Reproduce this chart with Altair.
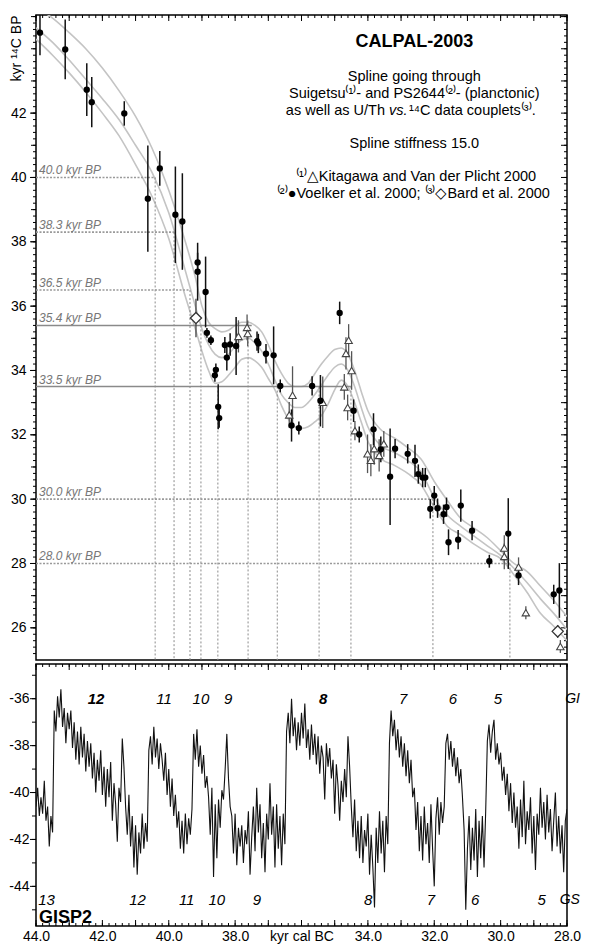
import altair as alt
import pandas as pd

FONT = "Liberation Sans"
W = 531
H_TOP = 645
H_BOT = 262
Y_TOP_MIN = 25.0

# ---------------- data ----------------
# Voelker et al. 2000 (PS2644), black dots: cal age (kyr BC), 14C age (kyr BP), 1-sigma
VOELKER_AGE = [43.88, 43.12, 42.47, 42.32, 41.34, 40.63, 40.27, 39.80, 39.59, 39.13,
               39.13, 38.89, 38.85, 38.73, 38.58, 38.61, 38.51, 38.48, 38.31, 38.25,
               38.15, 37.97, 37.34, 37.30, 37.07, 36.84, 36.64, 36.30, 36.08, 35.68,
               35.43, 34.85, 34.43, 34.26, 33.83, 33.61, 33.33, 33.18, 32.80, 32.58,
               32.48, 32.35, 32.27, 32.00, 32.12, 31.90, 31.72, 31.63, 31.20, 31.57,
               31.28, 30.86, 30.34, 29.77, 29.46, 28.40, 28.23]
VOELKER_C14 = [44.50, 43.98, 42.73, 42.34, 41.99, 39.34, 40.28, 38.84, 38.63, 37.36,
               37.07, 36.44, 35.17, 34.94, 34.02, 33.85, 32.87, 32.52, 34.79, 34.40,
               34.81, 34.76, 34.91, 34.84, 34.52, 34.47, 33.52, 32.29, 32.21, 33.52,
               33.06, 35.79, 32.75, 32.01, 32.17, 31.55, 30.70, 31.57, 31.41, 31.19,
               30.78, 30.67, 30.67, 30.11, 29.70, 29.72, 29.53, 29.75, 29.80, 28.66,
               28.74, 29.02, 28.07, 28.93, 27.63, 27.04, 27.16]
VOELKER_ERR = [0.70, 0.93, 0.82, 0.78, 0.38, 1.65, 0.54, 1.50, 1.50, 0.30,
               0.90, 1.10, 0.15, 0.15, 0.20, 0.20, 0.70, 0.30, 0.25, 0.40,
               0.35, 0.90, 0.30, 0.30, 0.30, 0.90, 0.20, 0.50, 0.20, 0.30,
               0.80, 0.35, 0.35, 0.25, 0.50, 0.40, 1.50, 0.30, 0.30, 0.50,
               0.30, 0.30, 0.30, 0.30, 0.30, 0.30, 0.30, 0.30, 0.50, 0.40,
               0.30, 0.30, 0.20, 1.10, 0.30, 0.30, 0.85]

# Kitagawa & van der Plicht 2000 (Suigetsu), open triangles
KIT_AGE = [37.90, 37.64, 37.62, 36.27, 36.37, 35.36, 34.58, 34.66, 34.49, 34.71, 34.61,
           34.39, 34.01, 33.91, 33.81, 33.66, 33.52, 29.89, 29.89, 29.46, 29.24, 28.20]
KIT_C14 = [35.06, 35.34, 35.15, 33.23, 32.62, 33.01, 34.94, 34.53, 34.00, 33.49, 32.85,
           32.13, 31.41, 31.21, 31.57, 31.36, 31.72, 28.48, 28.22, 27.89, 26.47, 25.42]
KIT_ERR = [0.50, 0.40, 0.40, 0.90, 0.40, 0.80, 0.50, 0.50, 0.60, 0.40, 0.40,
           0.30, 0.60, 0.50, 0.50, 0.50, 0.40, 0.40, 0.40, 0.30, 0.20, 0.20]

# Bard et al. 2000, open diamonds
BARD_AGE = [39.18, 28.28]
BARD_C14 = [35.63, 25.89]
BARD_ERR = [0.60, 0.20]

# CalPal-2003 spline and its 1-sigma envelope
SPLINE_AGE = [44.0, 43.5, 43.0, 42.5, 42.0, 41.5, 41.0, 40.5, 40.0, 39.5,
              39.2, 39.0, 38.8, 38.6, 38.4, 38.2, 38.0, 37.8, 37.6, 37.4,
              37.2, 37.0, 36.8, 36.6, 36.4, 36.2, 36.0, 35.8, 35.6, 35.4,
              35.2, 35.0, 34.8, 34.6, 34.4, 34.2, 34.0, 33.6, 33.2, 32.8,
              32.4, 32.0, 31.6, 31.2, 30.8, 30.4, 30.0, 29.6, 29.2, 28.8, 28.4, 28.0]
SPLINE_UPPER = [45.3, 44.95, 44.5, 44.0, 43.4, 42.7, 41.9, 40.9, 39.6, 38.0,
                36.9, 36.0, 35.5, 35.3, 35.2, 35.25, 35.4, 35.5, 35.5, 35.4,
                35.2, 34.8, 34.3, 33.9, 33.6, 33.5, 33.5, 33.6, 33.9, 34.2,
                34.45, 34.65, 34.7, 34.5, 34.0, 33.35, 32.75, 32.15, 31.9, 31.6,
                31.25, 30.55, 29.95, 29.4, 29.1, 28.8, 28.4, 28.0, 27.75, 27.3, 26.85, 26.35]
SPLINE_MID = [44.65, 44.2, 43.65, 43.05, 42.45, 41.8, 41.0, 40.15, 38.9, 37.1,
              36.0, 35.3, 34.8, 34.5, 34.4, 34.5, 34.75, 34.95, 35.0, 34.85,
              34.6, 34.2, 33.7, 33.25, 33.0, 32.85, 32.85, 33.0, 33.25, 33.55,
              33.85, 34.1, 34.2, 34.0, 33.5, 32.85, 32.25, 31.65, 31.45, 31.2,
              30.85, 30.05, 29.5, 29.15, 28.85, 28.55, 28.25, 27.85, 27.4, 26.9, 26.45, 25.95]
SPLINE_LOWER = [44.3, 43.8, 43.25, 42.65, 42.0, 41.3, 40.4, 39.4, 38.1, 36.3,
                35.3, 34.6, 34.0, 33.6, 33.65, 33.85, 34.1, 34.35, 34.4, 34.3,
                34.1, 33.75, 33.4, 32.9, 32.5, 32.25, 32.2, 32.25, 32.4, 32.6,
                32.95, 33.4, 33.7, 33.5, 33.0, 32.4, 31.8, 31.25, 31.05, 30.8,
                30.45, 29.75, 29.15, 28.9, 28.6, 28.35, 28.15, 27.65, 27.1, 26.45, 26.05, 25.6]

# calibration examples
CAL_LEVELS = [40.0, 38.3, 36.5, 35.4, 33.5, 30.0, 28.0]
CAL_LEVEL_END = [40.41, 39.84, 39.36, 37.5, 34.51, 32.04, 29.72]
CAL_LEVEL_SOLID = [False, False, False, True, True, False, False]
CAL_VERT_AGE = [40.41, 39.84, 39.36, 39.03, 38.52, 37.61, 36.73, 35.47, 34.51, 32.04, 29.72]
CAL_VERT_LEVEL = [40.0, 38.3, 36.5, 35.4, 33.5, 35.4, 33.5, 33.5, 33.5, 30.0, 28.0]

# GISP2 d18O, segments sampled every 0.05 kyr starting at the given age
GISP2_SEGMENTS = [
    (44.00, [-40.6, -39.8, -41.0, -40.2, -40.9, -39.5, -41.2, -40.6, -42.3, -41.0, -41.7]),
    (43.45, [-36.5, -37.4, -35.9, -36.8, -35.6, -37.2, -36.4, -37.9, -36.6, -37.3,
             -36.5, -38.1, -37.0, -38.6, -37.4, -38.8, -37.2, -38.5, -37.5, -39.1,
             -37.8, -38.9, -37.9, -39.4, -38.3, -40.0, -38.6, -39.5, -38.2, -40.1,
             -38.9, -40.6, -39.0, -40.2, -38.7, -41.2, -39.6, -40.5, -42.1, -39.8,
             -40.4, -37.7, -38.9]),
    (41.30, [-40.6, -41.8, -40.1, -42.3, -41.0, -43.2, -41.4, -43.5, -41.7, -42.6,
             -40.9, -42.4, -41.3, -42.1]),
    (40.60, [-38.2, -37.6, -38.8, -37.2, -38.5, -37.7, -39.0, -37.9, -38.6, -39.5,
             -38.3, -40.1, -39.0, -40.6, -39.4, -41.0, -40.1, -41.5]),
    (39.70, [-40.8, -42.4, -41.2, -42.6, -40.9, -42.2, -41.1, -41.8, -40.7]),
    (39.25, [-37.5, -38.6, -37.3, -38.9, -38.0, -39.2, -38.4, -39.8, -39.3]),
    (38.80, [-40.2, -41.8, -39.8, -43.6, -40.5, -42.8, -40.3, -41.5, -39.9]),
    (38.35, [-40.3, -39.0, -37.5, -39.4, -40.6]),
    (38.10, [-41.0, -42.6, -40.9, -43.1, -41.5, -42.3, -41.4, -43.0, -41.6, -42.2,
             -40.8, -43.5, -41.9, -40.6, -42.5, -39.8, -41.7, -40.5, -42.8, -41.3,
             -43.4, -40.9, -42.0, -39.6, -41.8, -40.6, -43.2, -40.5, -42.4, -41.0,
             -43.1, -40.9, -42.2]),
    (36.45, [-37.4, -36.6, -37.9, -36.0, -37.6, -36.8, -38.2, -37.0, -38.0, -36.6,
             -37.7, -36.2, -38.1, -37.3, -38.6, -37.1, -38.4, -37.5, -38.8, -37.6,
             -39.2, -38.0, -38.5, -40.3, -37.9, -38.9, -38.1, -39.4, -38.6, -40.9,
             -38.8, -39.7, -41.2, -39.5, -40.4, -39.0, -40.2, -37.6, -38.9]),
    (34.50, [-40.6, -41.9, -40.3, -42.5, -41.2, -42.8, -41.0, -43.0, -41.6, -42.3,
             -40.9, -43.5, -41.8, -43.2, -44.9, -41.5, -43.0, -40.8, -42.6, -41.2,
             -43.4, -41.0, -42.2]),
    (33.35, [-37.9, -36.5, -37.6, -36.9, -38.2, -37.3, -38.5, -37.6, -38.9, -37.9,
             -39.3, -38.2, -39.6, -38.6, -40.2]),
    (32.60, [-39.8, -41.6, -40.4, -42.5, -41.0, -42.9, -40.6, -42.2, -41.3, -43.0,
             -40.5, -42.4, -44.0, -41.1, -40.2, -41.8, -40.4, -41.3, -40.6]),
    (31.65, [-37.9, -37.5, -38.6, -37.8, -38.9, -38.1, -39.3, -38.5, -39.6, -39.0, -40.2]),
    (31.10, [-41.6, -45.0, -42.4, -41.0, -43.3, -41.5, -42.9, -40.7, -43.6, -41.2,
             -42.8, -41.0, -43.2, -40.8]),
    (30.40, [-37.8, -37.1, -38.3, -37.4, -36.9, -38.6, -37.9, -38.8, -38.3, -39.5]),
    (29.90, [-38.9, -40.1, -39.2, -40.8, -39.6, -41.3, -40.0, -41.5]),
    (29.50, [-40.6, -42.4, -40.3, -41.9, -39.5, -42.2, -40.8, -41.6, -40.2, -42.6,
             -41.0, -43.3, -40.9, -41.8, -39.8, -41.5, -40.4, -42.0, -40.1, -41.7,
             -40.7, -42.5, -41.2, -40.0, -42.3, -41.0, -42.6, -41.4, -43.4, -41.2, -40.7]),
]

# interstadial (GI) and stadial (GS) numbers
GI_TEXT = ["12", "11", "10", "9", "8", "7", "6", "5"]
GI_AGE = [42.19, 40.14, 39.03, 38.21, 35.35, 32.94, 31.44, 30.08]
GI_BOLD = [True, False, False, False, True, False, False, False]
GS_TEXT = ["13", "12", "11", "10", "9", "8", "7", "6", "5"]
GS_AGE = [43.68, 40.94, 39.46, 38.55, 37.34, 33.99, 32.10, 30.77, 28.76]

# axis tick positions
X_MAJOR = list(range(28, 45))
X_MINOR = [round(28 + 0.2 * i, 1) for i in range(81)]
X_LABELS = [28, 30, 32, 34, 36, 38, 40, 42, 44]
YT_LABELS = [26, 28, 30, 32, 34, 36, 38, 40, 42]
YT_INT = list(range(26, 46))
YT_MINOR = [round(25.2 + 0.2 * i, 1) for i in range(100)]
YB_LABELS = [-44, -42, -40, -38, -36]
YB_INT = list(range(-45, -34))

# ---------------- tables ----------------
voelker = pd.DataFrame({"age": VOELKER_AGE, "c14": VOELKER_C14, "err": VOELKER_ERR})
kit = pd.DataFrame({"age": KIT_AGE, "c14": KIT_C14, "err": KIT_ERR})
bard = pd.DataFrame({"age": BARD_AGE, "c14": BARD_C14, "err": BARD_ERR})
spline = pd.concat([
    pd.DataFrame({"age": SPLINE_AGE, "c14": SPLINE_UPPER, "curve": "upper"}),
    pd.DataFrame({"age": SPLINE_AGE, "c14": SPLINE_MID, "curve": "mid"}),
    pd.DataFrame({"age": SPLINE_AGE, "c14": SPLINE_LOWER, "curve": "lower"}),
])
levels = pd.DataFrame({"level": CAL_LEVELS, "x0": 44.0, "x1": CAL_LEVEL_END,
                       "solid": CAL_LEVEL_SOLID,
                       "label": [f"{v:.1f} kyr BP" for v in CAL_LEVELS],
                       "lx": 43.91})
verts = pd.DataFrame({"age": CAL_VERT_AGE, "level": CAL_VERT_LEVEL, "ybot": Y_TOP_MIN})

rows = []
for start, vals in GISP2_SEGMENTS:
    for i, v in enumerate(vals):
        rows.append({"age": round(start - 0.05 * i, 2), "d18o": v})
gisp = pd.DataFrame(rows)

gi = pd.DataFrame({"age": GI_AGE, "text": GI_TEXT, "bold": GI_BOLD, "y": -36.0})
gs = pd.DataFrame({"age": GS_AGE, "text": GS_TEXT, "y": -44.59})

# ---------------- scales ----------------
xs = alt.Scale(domain=[28.0, 44.0], reverse=True, nice=False, zero=False)
yts = alt.Scale(domain=[Y_TOP_MIN, 45.05], nice=False, zero=False)
ybs = alt.Scale(domain=[-45.69, -34.52], nice=False, zero=False)


def XQ(field, axis=None):
    return alt.X(field, type="quantitative", scale=xs, axis=axis)


def YT(field, axis=None):
    return alt.Y(field, type="quantitative", scale=yts, axis=axis)


def YB(field, axis=None):
    return alt.Y(field, type="quantitative", scale=ybs, axis=axis)


def xticks(values, y0, y1):
    return alt.Chart(pd.DataFrame({"v": values})).mark_rule(
        color="black", strokeWidth=1).encode(x=XQ("v"), y=alt.value(y0), y2=alt.value(y1))


def yticks(values, yfun, x0, x1):
    return alt.Chart(pd.DataFrame({"v": values})).mark_rule(
        color="black", strokeWidth=1).encode(y=yfun("v"), x=alt.value(x0), x2=alt.value(x1))


anchor_top = pd.DataFrame({"ax": [36.0], "ay": [35.0]})
anchor_bot = pd.DataFrame({"ax": [36.0], "ay": [-40.0]})

# ---------------- top panel ----------------
top_label_axis = alt.Chart(anchor_top).mark_point(opacity=0).encode(
    x=XQ("ax"),
    y=YT("ay", alt.Axis(orient="left", values=YT_LABELS, ticks=False, tickSize=0,
                        labels=True, labelFontSize=14, labelPadding=10, labelFont=FONT,
                        labelColor="black", labelFlush=False, labelOverlap=False,
                        domain=False, grid=False,
                        title="kyr ¹⁴C BP", titleFont=FONT, titleFontSize=14,
                        titleFontWeight="normal", titleColor="black",
                        titleAngle=270, titleX=-20, titleY=0,
                        titleAlign="right", titleBaseline="middle")))

top_ticks = [
    xticks(X_MINOR, 0, 3), xticks(X_MAJOR, 0, 6),
    yticks(YT_MINOR, YT, 0, -3), yticks(YT_INT, YT, 0, -5), yticks(YT_LABELS, YT, 0, -6),
    yticks(YT_MINOR, YT, W, W - 3), yticks(YT_INT, YT, W, W - 6),
]

curves = alt.Chart(spline).mark_line(color="#c4c4c4", strokeWidth=1.6, clip=True,
                                     interpolate="monotone").encode(
    x=XQ("age"), y=YT("c14"), detail="curve:N")

hl_dot = alt.Chart(levels).transform_filter("!datum.solid").mark_rule(
    color="#9a9a9a", strokeWidth=1.6, strokeDash=[2, 1.5]).encode(
    x=XQ("x0"), x2="x1:Q", y=YT("level"))
hl_solid = alt.Chart(levels).transform_filter("datum.solid").mark_rule(
    color="#8a8a8a", strokeWidth=1.6).encode(
    x=XQ("x0"), x2="x1:Q", y=YT("level"))
vl = alt.Chart(verts).mark_rule(color="#8a8a8a", strokeWidth=1, strokeDash=[2, 2]).encode(
    x=XQ("age"), y=YT("level"), y2="ybot:Q")
level_txt = alt.Chart(levels).mark_text(
    align="left", baseline="alphabetic", dy=-3, fontSize=12, fontStyle="italic",
    color="#777777", font=FONT).encode(x=XQ("lx"), y=YT("level"), text="label:N")


def errbars(df, color, width):
    return alt.Chart(df).transform_calculate(
        lo="datum.c14 - datum.err", hi="datum.c14 + datum.err").mark_rule(
        color=color, strokeWidth=width, clip=True).encode(
        x=XQ("age"), y=YT("lo:Q"), y2="hi:Q")


err_k = errbars(kit, "#555555", 1.3)
err_v = errbars(voelker, "#111111", 1.5)
err_b = errbars(bard, "#444444", 1.3)

pts_k = alt.Chart(kit).mark_point(shape="triangle-up", filled=True, fill="white",
                                  stroke="#444444", strokeWidth=1.1, size=55,
                                  opacity=1).encode(x=XQ("age"), y=YT("c14"))
pts_v = alt.Chart(voelker).mark_circle(color="black", size=40, opacity=1).encode(
    x=XQ("age"), y=YT("c14"))
pts_b = alt.Chart(bard).mark_point(shape="diamond", filled=True, fill="white",
                                   stroke="#333333", strokeWidth=1.3, size=125,
                                   opacity=1).encode(x=XQ("age"), y=YT("c14"))

ann_title = pd.DataFrame({"x": [32.6], "y": [44.22], "text": ["CALPAL-2003"]})
ann_lines = pd.DataFrame({
    "x": [32.6, 32.6, 32.6, 32.55, 32.63],
    "y": [43.11, 42.59, 41.03, 40.0, 39.49],
    "text": ["Spline going through",
             "Suigetsu⁽¹⁾- and PS2644⁽²⁾- (planctonic)",
             "Spline stiffness 15.0",
             "⁽¹⁾△Kitagawa and Van der Plicht 2000",
             "⁽²⁾●Voelker et al. 2000;  ⁽³⁾◇Bard et al. 2000"]})
ann_left = pd.DataFrame({"x": [33.485], "y": [42.06], "text": ["as well as U/Th"]})
ann_vs = pd.DataFrame({"x": [33.364], "y": [42.06], "text": ["vs."]})
ann_right = pd.DataFrame({"x": [32.76], "y": [42.06], "text": [" ¹⁴C data couplets⁽³⁾."]})

t_title = alt.Chart(ann_title).mark_text(fontSize=18, fontWeight="bold", font=FONT,
                                         color="black", baseline="middle").encode(
    x=XQ("x"), y=YT("y"), text="text:N")
t_lines = alt.Chart(ann_lines).mark_text(fontSize=14.5, font=FONT, color="black",
                                         baseline="middle").encode(
    x=XQ("x"), y=YT("y"), text="text:N")
t_left = alt.Chart(ann_left).mark_text(fontSize=14.5, font=FONT, color="black",
                                       baseline="middle", align="right").encode(
    x=XQ("x"), y=YT("y"), text="text:N")
t_vs = alt.Chart(ann_vs).mark_text(fontSize=14.5, font=FONT, color="black",
                                   baseline="middle", align="left",
                                   fontStyle="italic").encode(
    x=XQ("x"), y=YT("y"), text="text:N")
t_right = alt.Chart(ann_right).mark_text(fontSize=14.5, font=FONT, color="black",
                                         baseline="middle", align="left").encode(
    x=XQ("x"), y=YT("y"), text="text:N")

top = alt.layer(
    top_label_axis, *top_ticks, curves, vl, hl_dot, hl_solid, level_txt,
    err_k, err_v, err_b, pts_k, pts_v, pts_b,
    t_title, t_lines, t_left, t_vs, t_right,
).resolve_axis(x="independent", y="independent").properties(width=W, height=H_TOP)

# ---------------- bottom panel ----------------
bot_label_axis = alt.Chart(anchor_bot).mark_point(opacity=0).encode(
    x=XQ("ax", alt.Axis(orient="bottom", values=X_LABELS, ticks=False, tickSize=0,
                        labelPadding=3, labelFontSize=14, labelFont=FONT,
                        labelColor="black", labelFlush=False, labelOverlap=False,
                        labelBaseline="top",
                        labelExpr="datum.value == 36 ? 'kyr cal BC' : format(datum.value, '.1f')",
                        domain=False, grid=False, title=None)),
    y=YB("ay", alt.Axis(orient="left", values=YB_LABELS, ticks=False, tickSize=0,
                        labels=True, labelFontSize=14, labelPadding=7, labelFont=FONT,
                        labelColor="black", labelFlush=False, labelOverlap=False,
                        labelExpr="'-' + format(abs(datum.value), 'd')",
                        domain=False, grid=False, title=None)))

bot_ticks = [
    xticks(X_MINOR, 0, 3), xticks(X_MAJOR, 0, 6),
    xticks(X_MINOR, H_BOT, H_BOT - 3), xticks(X_MAJOR, H_BOT, H_BOT - 6),
    yticks(YB_INT, YB, 0, -4), yticks(YB_LABELS, YB, 0, -6),
]

trace = alt.Chart(gisp).mark_line(color="#111111", strokeWidth=1.1, clip=True).encode(
    x=XQ("age"), y=YB("d18o"))

gi_bold = alt.Chart(gi).transform_filter("datum.bold").mark_text(
    fontSize=15, fontStyle="italic", fontWeight="bold", font=FONT, color="black",
    baseline="middle").encode(x=XQ("age"), y=YB("y"), text="text:N")
gi_norm = alt.Chart(gi).transform_filter("!datum.bold").mark_text(
    fontSize=15, fontStyle="italic", font=FONT, color="black",
    baseline="middle").encode(x=XQ("age"), y=YB("y"), text="text:N")
gs_txt = alt.Chart(gs).mark_text(
    fontSize=15, fontStyle="italic", font=FONT, color="black",
    baseline="middle").encode(x=XQ("age"), y=YB("y"), text="text:N")
side = pd.DataFrame({"age": [27.61, 27.61], "y": [-36.0, -44.59], "text": ["GI", "GS"]})
side_txt = alt.Chart(side).mark_text(
    fontSize=14, fontStyle="italic", font=FONT, color="black", align="right",
    baseline="middle").encode(x=XQ("age"), y=YB("y"), text="text:N")
gisp_lab = pd.DataFrame({"age": [43.91], "y": [-45.57], "text": ["GISP2"]})
gisp_txt = alt.Chart(gisp_lab).mark_text(
    fontSize=18, fontWeight="bold", font=FONT, color="black", align="left",
    baseline="alphabetic").encode(x=XQ("age"), y=YB("y"), text="text:N")

bottom = alt.layer(
    bot_label_axis, *bot_ticks, trace, gi_bold, gi_norm, gs_txt, side_txt, gisp_txt,
).resolve_axis(x="independent", y="independent").properties(width=W, height=H_BOT)

chart = alt.vconcat(top, bottom, spacing=0).properties(
    padding={"left": 0, "top": 5, "right": 0, "bottom": 0},
    background="white",
).configure_view(stroke="black", strokeWidth=1.5).configure_text(font=FONT)

chart.save("out.html", embed_options={"renderer": "svg", "actions": False})
